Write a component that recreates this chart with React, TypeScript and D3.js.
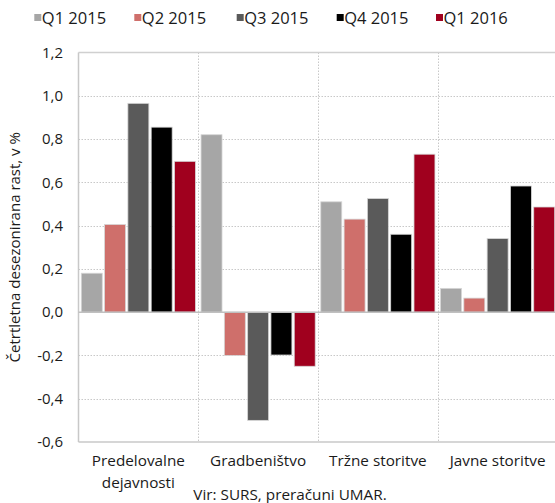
import React from "react";
import * as d3 from "d3";

const categories = ["Predelovalne dejavnosti", "Gradbeništvo", "Tržne storitve", "Javne storitve"];
const categoryLines = [["Predelovalne", "dejavnosti"], ["Gradbeništvo"], ["Tržne storitve"], ["Javne storitve"]];
const seriesNames = ["Q1 2015", "Q2 2015", "Q3 2015", "Q4 2015", "Q1 2016"];
const q1_2015 = [0.18, 0.82, 0.51, 0.11];
const q2_2015 = [0.405, -0.2, 0.43, 0.065];
const q3_2015 = [0.965, -0.5, 0.525, 0.34];
const q4_2015 = [0.855, -0.198, 0.36, 0.583];
const q1_2016 = [0.697, -0.25, 0.73, 0.486];
const seriesValues = [q1_2015, q2_2015, q3_2015, q4_2015, q1_2016];
const colors = ["#a6a6a6", "#cf6f6b", "#5a5a5a", "#000000", "#a0001e"];
const yTicks = [-0.6, -0.4, -0.2, 0, 0.2, 0.4, 0.6, 0.8, 1.0, 1.2];
const yTitle = "Četrtletna desezonirana rast, v %";
const source = "Vir: SURS, preračuni UMAR.";

const W = 555;
const H = 503;
const FONT = "'Open Sans', sans-serif";

export default function App() {
  const left = 78.5;
  const right = 557.5;
  const top = 52.5;
  const bottom = 442;
  const y = d3.scaleLinear().domain([-0.6, 1.2]).range([bottom, top]);
  const x0 = d3.scaleBand<string>().domain(categories).range([left, right]).padding(0);
  const x1 = d3
    .scaleBand<string>()
    .domain(seriesNames)
    .range([0, x0.bandwidth()])
    .paddingInner(0.1)
    .paddingOuter(0.12);
  const fmt = (v: number) => d3.format(".1f")(v).replace(".", ",").replace("−", "-");
  const legendX = [34.3, 134.3, 236.7, 336.7, 436];

  return (
    <svg
      width={W}
      height={H}
      style={{ position: "absolute", left: 0, top: 0, background: "#fff" }}
      fontFamily={FONT}
    >
      {/* gridlines */}
      {yTicks
        .filter((t) => t > -0.6 && t < 1.2 && t !== 0)
        .map((t) => (
          <line
            key={"g" + t}
            x1={left}
            x2={right}
            y1={Math.round(y(t)) + 0.5}
            y2={Math.round(y(t)) + 0.5}
            stroke="#c8c8c8"
            strokeWidth={1}
            strokeDasharray="1.5,1.5"
          />
        ))}
      {categories.slice(1).map((c) => (
        <line
          key={"v" + c}
          x1={Math.round(x0(c)!) + 0.5}
          x2={Math.round(x0(c)!) + 0.5}
          y1={top}
          y2={bottom}
          stroke="#c8c8c8"
          strokeWidth={1}
          strokeDasharray="1.5,1.5"
        />
      ))}
      {/* frame */}
      <line x1={left} x2={right} y1={top} y2={top} stroke="#d0d0d0" strokeWidth={1.5} />
      <line x1={left} x2={right} y1={bottom} y2={bottom} stroke="#c8c8c8" strokeWidth={1.5} />
      <line x1={left} x2={left} y1={top} y2={bottom} stroke="#c8c8c8" strokeWidth={1.5} />
      {/* bars */}
      {categories.map((c, ci) =>
        seriesNames.map((s, si) => {
          const v = seriesValues[si][ci];
          const bx = x0(c)! + x1(s)!;
          const y0 = y(0);
          const yv = y(v);
          return (
            <rect
              key={c + s}
              x={bx}
              y={Math.min(y0, yv)}
              width={x1.bandwidth()}
              height={Math.abs(yv - y0)}
              fill={colors[si]}
              stroke="#d6d6d6"
              strokeWidth={0.8}
            />
          );
        })
      )}
      {/* zero line */}
      <line x1={left} x2={right} y1={y(0)} y2={y(0)} stroke="#c0c0c0" strokeWidth={1.5} />
      {/* y tick labels */}
      {yTicks.map((t) => (
        <text
          key={"t" + t}
          x={63}
          y={y(t)}
          dy="0.35em"
          textAnchor="end"
          fontSize={15}
          fill="#1a1a1a"
        >
          {fmt(t)}
        </text>
      ))}
      {/* y title */}
      <text
        transform={`translate(20,${(top + bottom) / 2}) rotate(-90)`}
        textAnchor="middle"
        fontSize={15}
        fill="#1a1a1a"
      >
        {yTitle}
      </text>
      {/* category labels */}
      {categories.map((c, ci) => (
        <text
          key={"c" + c}
          x={x0(c)! + x0.bandwidth() / 2}
          y={466}
          textAnchor="middle"
          fontSize={15.3}
          fill="#1a1a1a"
        >
          {categoryLines[ci].map((ln, li) => (
            <tspan key={li} x={x0(c)! + x0.bandwidth() / 2} dy={li === 0 ? 0 : 22}>
              {ln}
            </tspan>
          ))}
        </text>
      ))}
      <text x={290} y={500} textAnchor="middle" fontSize={15.3} fill="#1a1a1a">
        {source}
      </text>
      {/* legend */}
      {seriesNames.map((s, si) => (
        <g key={"l" + s}>
          <rect x={legendX[si]} y={14} width={7} height={7} fill={colors[si]} />
          <text x={legendX[si] + 7.5} y={24} fontSize={16.5} fill="#1a1a1a">
            {s}
          </text>
        </g>
      ))}
    </svg>
  );
}
